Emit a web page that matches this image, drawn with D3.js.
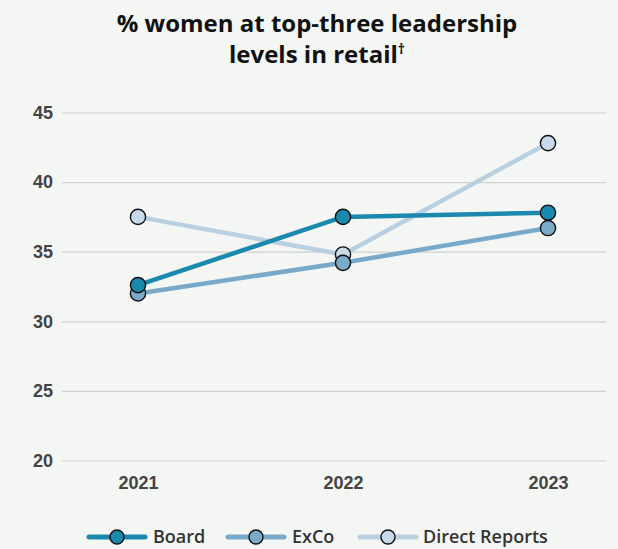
<!DOCTYPE html>
<html>
<head>
<meta charset="utf-8">
<script src="https://cdn.jsdelivr.net/npm/d3@7"></script>
<style>
  html, body { margin: 0; padding: 0; background: #f4f6f3; }
  svg { display: block; }
</style>
</head>
<body>
<svg id="chart" width="618" height="549"></svg>
<script>
// Data
const years = ["2021", "2022", "2023"];
const board = [32.6, 37.5, 37.8];
const exco = [32.0, 34.2, 36.7];
const directReports = [37.5, 34.8, 42.8];
const yTicks = [20, 25, 30, 35, 40, 45];
const seriesNames = ["Board", "ExCo", "Direct Reports"];

// Drawn back to front: Direct Reports, ExCo, Board
const series = [
  { name: seriesNames[2], values: directReports, line: "#b9cfe2", fill: "#c8d9ea" },
  { name: seriesNames[1], values: exco, line: "#78a9c8", fill: "#7aaac8" },
  { name: seriesNames[0], values: board, line: "#1a89ad", fill: "#1a89ad" }
];

const W = 618, H = 549;
const svg = d3.select("#chart");
svg.append("rect").attr("width", W).attr("height", H).attr("fill", "#f4f6f3");

// Title
const title = svg.append("text")
  .attr("text-anchor", "middle")
  .attr("font-family", "'Open Sans', Lato, sans-serif")
  .attr("font-weight", 700)
  .attr("font-size", 24)
  .attr("fill", "#111");
title.append("tspan").attr("x", 317).attr("y", 32).text("% women at top-three leadership");
const t2 = title.append("tspan").attr("x", 317).attr("y", 63);
t2.append("tspan").text("levels in retail");
t2.append("tspan").attr("font-size", 14).attr("dy", -9).text("†");

// Scales
const x = d3.scalePoint().domain(years).range([138, 548]);
const y = d3.scaleLinear().domain([20, 45]).range([460.5, 112.5]);

const axisFont = "'Liberation Sans', Arial, sans-serif";

// Gridlines + y labels
const yAxis = d3.axisLeft(y).tickValues(yTicks).tickSize(-(606 - 62)).tickPadding(9);
const yg = svg.append("g").attr("transform", "translate(62,0)").call(yAxis);
yg.select(".domain").remove();
yg.selectAll(".tick line").attr("stroke", "#cfd1cf").attr("stroke-width", 1.2);
yg.selectAll(".tick text")
  .attr("font-family", axisFont)
  .attr("font-weight", 700)
  .attr("font-size", 18)
  .attr("fill", "#444");

// x labels
const xAxis = d3.axisBottom(x).tickSize(0).tickPadding(0);
const xg = svg.append("g").attr("transform", "translate(0,476)").call(xAxis);
xg.select(".domain").remove();
xg.selectAll(".tick text")
  .attr("font-family", axisFont)
  .attr("font-weight", 700)
  .attr("font-size", 18)
  .attr("fill", "#444");

// Lines and markers
const line = d3.line().x((d, i) => x(years[i])).y(d => y(d));
series.forEach(s => {
  const g = svg.append("g");
  g.append("path")
    .attr("d", line(s.values))
    .attr("fill", "none")
    .attr("stroke", s.line)
    .attr("stroke-width", 4.5);
  g.selectAll("circle").data(s.values).join("circle")
    .attr("cx", (d, i) => x(years[i]))
    .attr("cy", d => y(d))
    .attr("r", 7.6)
    .attr("fill", s.fill)
    .attr("stroke", "#111")
    .attr("stroke-width", 1.4);
});

// Legend
const legendOrder = [series[2], series[1], series[0]];
const legendX = [89, 228, 360];
const legendTX = [153, 292, 423];
const ly = 537;
legendOrder.forEach((s, i) => {
  const g = svg.append("g");
  g.append("line")
    .attr("x1", legendX[i]).attr("x2", legendX[i] + 56)
    .attr("y1", ly).attr("y2", ly)
    .attr("stroke", s.line).attr("stroke-width", 5).attr("stroke-linecap", "round");
  g.append("circle")
    .attr("cx", legendX[i] + 28).attr("cy", ly).attr("r", 7)
    .attr("fill", s.fill).attr("stroke", "#111").attr("stroke-width", 1.4);
  g.append("text")
    .attr("x", legendTX[i]).attr("y", ly + 6)
    .attr("font-family", "'Open Sans', Lato, sans-serif")
    .attr("font-weight", 600)
    .attr("font-size", 18)
    .attr("fill", "#333")
    .text(s.name);
});
</script>
</body>
</html>
